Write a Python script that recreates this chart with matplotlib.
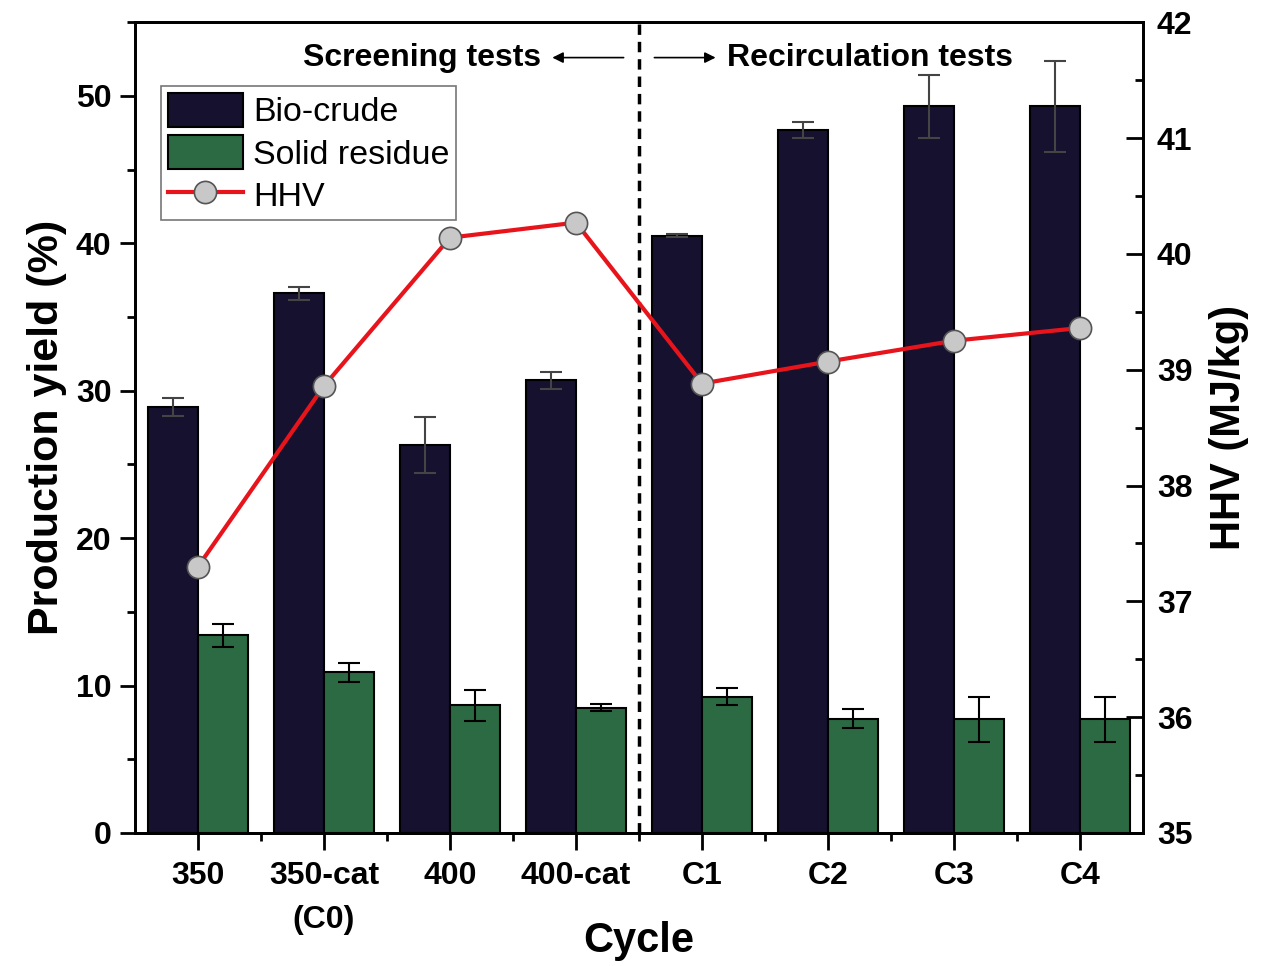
import matplotlib
matplotlib.use("Agg")
import matplotlib.pyplot as plt
from matplotlib.ticker import MultipleLocator, FixedLocator
from matplotlib.patches import Patch
from matplotlib.lines import Line2D
import numpy as np

plt.rcParams['font.family'] = ['Liberation Sans', 'DejaVu Sans']

categories = ["350", "350-cat\n(C0)", "400", "400-cat", "C1", "C2", "C3", "C4"]
biocrude = [28.9, 36.6, 26.3, 30.7, 40.5, 47.7, 49.3, 49.3]
biocrude_err = [0.6, 0.45, 1.9, 0.6, 0.1, 0.55, 2.15, 3.1]
solid = [13.4, 10.9, 8.65, 8.5, 9.25, 7.75, 7.7, 7.7]
solid_err = [0.75, 0.65, 1.05, 0.25, 0.6, 0.65, 1.5, 1.5]
hhv = [37.30, 38.86, 40.14, 40.27, 38.88, 39.07, 39.25, 39.36]

c_bio = '#15112f'
c_sol = '#2b6a42'

fig = plt.figure(figsize=(12.69, 9.66), dpi=100)
ax = fig.add_axes([0.1064, 0.1377, 0.7943, 0.8393])
x = np.arange(len(categories))
w = 0.4

ax.bar(x - w/2, biocrude, w, color=c_bio, edgecolor='black', linewidth=1.5, zorder=2)
ax.errorbar(x - w/2, biocrude, yerr=biocrude_err, fmt='none', ecolor='#444444',
            elinewidth=1.5, capsize=8, capthick=1.5, zorder=3)
ax.bar(x + w/2, solid, w, color=c_sol, edgecolor='black', linewidth=1.5, zorder=2)
ax.errorbar(x + w/2, solid, yerr=solid_err, fmt='none', ecolor='black',
            elinewidth=1.5, capsize=8, capthick=1.5, zorder=3)

ax.axvline(3.5, color='black', linestyle=(0, (3, 2)), linewidth=2.5, zorder=4)

ax.set_xlim(-0.5, 7.5)
ax.set_ylim(0, 55)
ax.set_xticks(x)
ax.set_xticklabels(categories, fontsize=23, fontweight='bold', linespacing=1.6, va='top')
ax.xaxis.set_minor_locator(FixedLocator(np.arange(0.5, 7.5, 1.0)))
ax.yaxis.set_major_locator(MultipleLocator(10))
ax.yaxis.set_minor_locator(MultipleLocator(5))
ax.tick_params(axis='x', which='major', direction='out', length=12, width=2, pad=8)
ax.tick_params(axis='x', which='minor', direction='out', length=6, width=2)
ax.tick_params(axis='y', which='major', direction='out', length=11, width=2, pad=6, labelsize=23)
ax.tick_params(axis='y', which='minor', direction='out', length=6, width=2)
for lab in ax.get_yticklabels():
    lab.set_fontweight('bold')
for s in ax.spines.values():
    s.set_linewidth(2)

ax.set_ylabel('Production yield (%)', fontsize=31, fontweight='bold', labelpad=6)
ax.set_xlabel('Cycle', fontsize=30, fontweight='bold', va='center')
ax.xaxis.set_label_coords(0.5, -0.133)

ax.text(2.72, 52.6, 'Screening tests', fontsize=23, fontweight='bold', ha='right', va='center')
ax.annotate('', xy=(2.79, 52.6), xytext=(3.40, 52.6),
            arrowprops=dict(arrowstyle='-|>', lw=1.2, color='black', mutation_scale=16))
ax.annotate('', xy=(4.13, 52.6), xytext=(3.60, 52.6),
            arrowprops=dict(arrowstyle='-|>', lw=1.2, color='black', mutation_scale=16))
ax.text(4.2, 52.6, 'Recirculation tests', fontsize=23, fontweight='bold', ha='left', va='center')

ax2 = ax.twinx()
ax2.plot(x, hhv, color='#e8141c', linewidth=3, marker='o', markersize=16,
         markerfacecolor='#c8c8c8', markeredgecolor='#555555', markeredgewidth=1.2, zorder=5)
ax2.set_ylim(35, 42)
ax2.yaxis.set_major_locator(MultipleLocator(1))
ax2.yaxis.set_minor_locator(MultipleLocator(0.5))
ax2.tick_params(axis='y', which='major', direction='in', length=12, width=2, pad=10, labelsize=23)
ax2.tick_params(axis='y', which='minor', direction='in', length=6, width=2)
for lab in ax2.get_yticklabels():
    lab.set_fontweight('bold')
for s in ax2.spines.values():
    s.set_linewidth(2)
ax2.set_ylabel('HHV (MJ/kg)', fontsize=30, fontweight='bold', labelpad=12)

handles = [Patch(facecolor=c_bio, edgecolor='black', linewidth=1.5),
           Patch(facecolor=c_sol, edgecolor='black', linewidth=1.5),
           Line2D([0], [0], color='#e8141c', linewidth=3, marker='o', markersize=16,
                  markerfacecolor='#c8c8c8', markeredgecolor='#555555', markeredgewidth=1.2)]
leg = ax2.legend(handles, ['Bio-crude', 'Solid residue', 'HHV'], loc='upper left',
                 bbox_to_anchor=(0.026, 0.921), borderaxespad=0, fontsize=24.5,
                 frameon=True, fancybox=False, edgecolor='#777777', framealpha=1,
                 handlelength=2.2, handleheight=1.15, handletextpad=0.3,
                 labelspacing=0.2, borderpad=0.2)
leg.get_frame().set_linewidth(1.2)
leg.set_zorder(10)

fig.savefig('out.png', dpi=100)
